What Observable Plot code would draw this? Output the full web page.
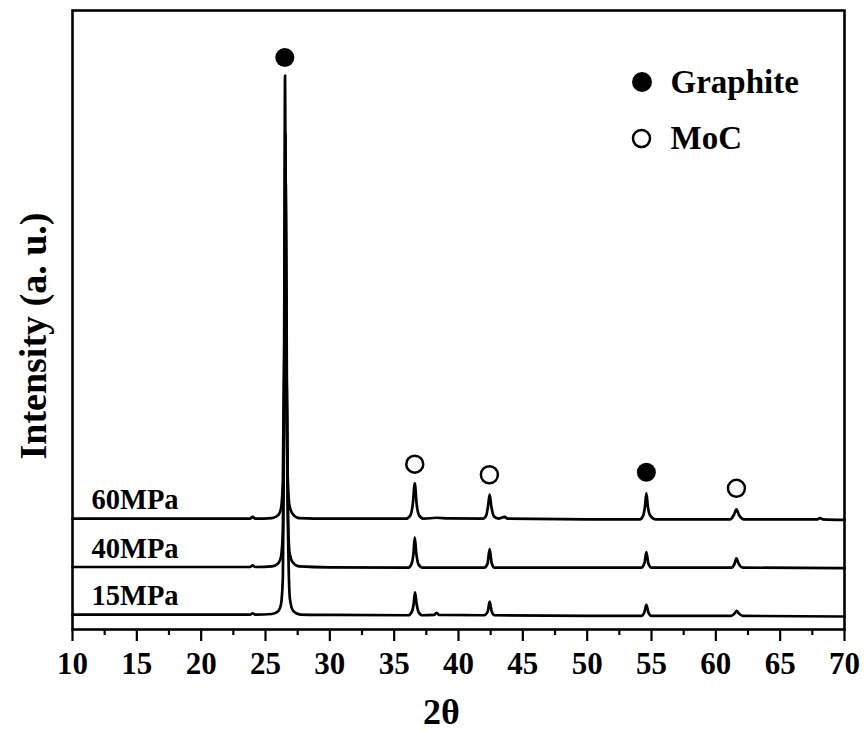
<!DOCTYPE html>
<html><head><meta charset="utf-8">
<script src="https://cdn.jsdelivr.net/npm/d3@7"></script>
<script src="https://cdn.jsdelivr.net/npm/@observablehq/plot@0.6"></script>
<style>body{margin:0;background:#fff}</style>
</head><body><div id="chart"></div>
<script>
// ---- data ----
const seriesNames = ["60MPa", "40MPa", "15MPa"];
const seriesBaselines = [17.8, 10.0, 2.3];

// [2θ, intensity] pairs
const xrd60 = [
  [10,17.9],[16,17.9],[20,17.9],[23.8,17.9],[24.0,18.2],[24.2,17.9],[25.5,18.0],[26.0,18.5],[26.2,19.5],
  [26.35,24],[26.45,46],[26.52,89.5],[26.6,52],[26.7,27],[26.85,20.2],[27.1,18.7],[27.6,18.0],
  [30,17.9],[35.9,17.9],[36.25,18.4],[36.45,20.3],[36.6,23.6],[36.75,20.2],[36.95,18.4],[37.3,17.9],
  [38.3,18.05],[39.2,17.95],[41.9,17.9],[42.15,18.4],[42.3,20.0],[42.42,21.8],[42.55,19.9],[42.75,18.3],[43.1,17.9],
  [43.6,18.2],[43.8,17.9],[50,17.8],[54.1,17.8],[54.35,18.4],[54.5,20.0],[54.6,22.0],[54.72,19.8],[54.9,18.4],[55.3,17.8],
  [61.1,17.8],[61.4,18.5],[61.6,19.4],[61.8,18.5],[62.2,17.8],[67.9,17.8],[68.1,18.0],[68.3,17.8],[70,17.7]
];
const xrd40 = [
  [10,10.1],[16,10.1],[20,10.1],[23.8,10.1],[24.0,10.35],[24.2,10.1],[25.5,10.2],[26.0,10.7],[26.2,11.7],
  [26.35,16],[26.45,40],[26.55,80],[26.62,46],[26.72,21],[26.87,12.4],[27.1,10.9],[27.6,10.2],
  [30,10.05],[36.1,10.0],[36.35,10.6],[36.5,12.3],[36.6,14.9],[36.72,12.3],[36.9,10.5],[37.2,10.0],
  [42.0,10.0],[42.25,10.6],[42.42,13.0],[42.58,10.7],[42.8,10.0],[50,10.0],
  [54.2,10.0],[54.45,10.7],[54.6,12.5],[54.75,10.7],[55.0,10.0],
  [61.2,10.0],[61.45,10.6],[61.6,11.5],[61.78,10.6],[62.1,10.0],[70,9.9]
];
const xrd15 = [
  [10,2.4],[16,2.4],[20,2.4],[23.8,2.4],[24.0,2.6],[24.2,2.4],[25.5,2.5],[26.0,3.0],[26.2,4.0],
  [26.35,8.5],[26.45,35],[26.58,72],[26.66,40],[26.75,16],[26.9,4.9],[27.15,3.0],[27.7,2.4],
  [30,2.35],[36.1,2.3],[36.38,2.9],[36.52,4.2],[36.62,6.0],[36.74,4.2],[36.9,2.8],[37.2,2.3],
  [38.1,2.35],[38.3,2.7],[38.5,2.35],[42.0,2.3],[42.27,2.9],[42.42,4.5],[42.58,2.9],[42.8,2.3],[50,2.2],
  [54.2,2.2],[54.45,2.8],[54.6,4.0],[54.75,2.8],[55.0,2.2],
  [61.2,2.2],[61.47,2.6],[61.62,3.0],[61.78,2.6],[62.1,2.2],[70,2.1]
];

const phaseNames = ["Graphite", "MoC"];
const markerX = [26.5, 36.6, 42.4, 54.6, 61.6];
const markerY = [92.4, 26.7, 25.0, 25.4, 22.8];
const markerPhase = ["Graphite", "MoC", "MoC", "Graphite", "MoC"];

const xMajorTicks = [10, 15, 20, 25, 30, 35, 40, 45, 50, 55, 60, 65, 70];
const xMinorTicks = [12.5, 17.5, 22.5, 27.5, 32.5, 37.5, 42.5, 47.5, 52.5, 57.5, 62.5, 67.5];
const xLabel = "2θ";
const yLabel = "Intensity (a. u.)";

// ---- build tables ----
const curves = [xrd60, xrd40, xrd15];
const rows = curves.flatMap((c, i) => c.map(([x, y]) => ({series: seriesNames[i], x, y})));
const markers = markerX.map((x, i) => ({x, y: markerY[i], phase: markerPhase[i]}));
const labels = seriesNames.map((s, i) => ({series: s, x: 10, y: seriesBaselines[i]}));

const font = '"Liberation Serif","Times New Roman",Times,serif';

const plot = Plot.plot({
  width: 864, height: 731,
  marginLeft: 72, marginRight: 20, marginTop: 10, marginBottom: 102,
  style: {fontFamily: font, fontWeight: "bold", background: "white", color: "black", overflow: "visible"},
  x: {domain: [10, 70]},
  y: {domain: [0, 100], axis: null},
  marks: [
    Plot.line(rows, {x: "x", y: "y", z: "series", stroke: "black", strokeWidth: 2.7, curve: "monotone-x", strokeLinejoin: "round"}),
    Plot.dot(markers.filter(d => d.phase === "Graphite"), {x: "x", y: "y", r: 9.5, fill: "black"}),
    Plot.dot(markers.filter(d => d.phase === "MoC"), {x: "x", y: "y", r: 8.5, fill: "white", stroke: "black", strokeWidth: 2.5}),
    Plot.frame({stroke: "black", strokeWidth: 2.6}),
    Plot.axisX(xMajorTicks, {tickSize: 12, tickPadding: 10, fontSize: 31, strokeWidth: 2.2, tickFormat: d => String(d), label: null}),
    Plot.axisX(xMinorTicks, {tickSize: 6, strokeWidth: 2.2, tickFormat: () => "", label: null}),
    Plot.text(labels, {x: "x", y: "y", text: "series", dx: 19, dy: -19, textAnchor: "start", lineAnchor: "middle", fontSize: 28.5, fill: "black"}),
    // legend
    Plot.dot([phaseNames[0]], {frameAnchor: "top-left", dx: 569.5, dy: 71.5, r: 10, fill: "black"}),
    Plot.text([phaseNames[0]], {frameAnchor: "top-left", dx: 598, dy: 71.5, textAnchor: "start", lineAnchor: "middle", fontSize: 33, fill: "black"}),
    Plot.dot([phaseNames[1]], {frameAnchor: "top-left", dx: 569, dy: 128, r: 8.5, fill: "white", stroke: "black", strokeWidth: 2.5}),
    Plot.text([phaseNames[1]], {frameAnchor: "top-left", dx: 598, dy: 128, textAnchor: "start", lineAnchor: "middle", fontSize: 33, fill: "black"}),
    // axis titles
    Plot.text([yLabel], {frameAnchor: "left", rotate: -90, dx: -39, dy: 16, textAnchor: "middle", lineAnchor: "middle", fontSize: 38, fill: "black"}),
    Plot.text([xLabel], {frameAnchor: "bottom", dx: -17, dy: 83, textAnchor: "middle", lineAnchor: "middle", fontSize: 36, fill: "black"})
  ]
});
document.getElementById("chart").appendChild(plot);
</script>
</body></html>
